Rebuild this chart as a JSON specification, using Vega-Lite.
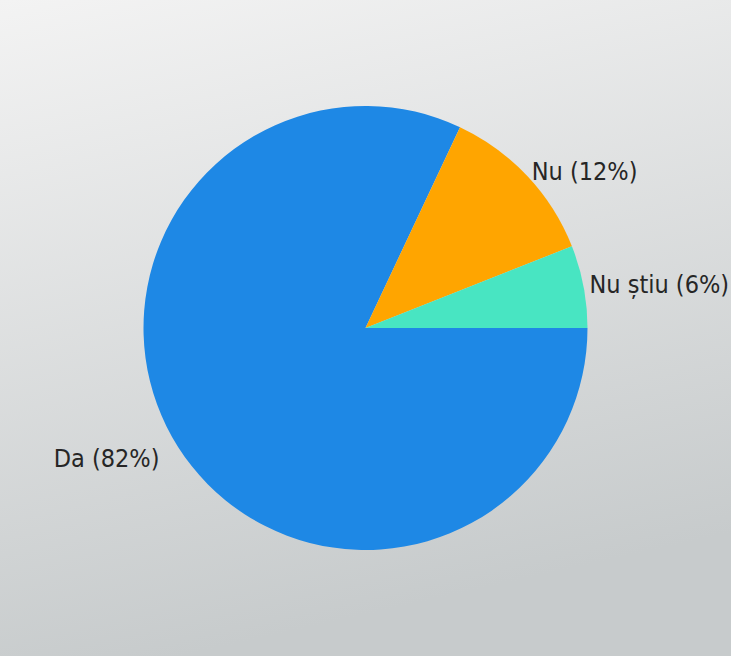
{
  "$schema": "https://vega.github.io/schema/vega-lite/v6.json",
  "width": 731,
  "height": 656,
  "autosize": {"type": "fit", "contains": "padding"},
  "padding": 0,
  "background": "#e0e2e3",
  "config": {"view": {"stroke": null}},
  "data": {
    "values": [
      {"answer": "Da", "label": "Da (82%)", "pct": 82},
      {"answer": "Nu", "label": "Nu (12%)", "pct": 12},
      {"answer": "Nu știu", "label": "Nu știu (6%)", "pct": 6}
    ]
  },
  "layer": [
    {
      "mark": {
        "type": "rect",
        "color": {
          "gradient": "linear",
          "x1": 0, "y1": 0, "x2": 0.25, "y2": 1,
          "stops": [
            {"offset": 0, "color": "#f3f3f3"},
            {"offset": 1, "color": "#c7cbcc"}
          ]
        }
      },
      "encoding": {}
    },
    {
      "mark": {"type": "arc", "outerRadius": 222},
      "encoding": {
        "theta": {"field": "pct", "type": "quantitative", "stack": true, "scale": {"range": [1.5708, 7.8540]}},
        "color": {
          "field": "answer",
          "type": "nominal",
          "scale": {"domain": ["Da", "Nu", "Nu știu"], "range": ["#1e88e5", "#ffa500", "#48e5c2"]},
          "legend": null
        }
      }
    },
    {
      "mark": {"type": "text", "radius": 228, "align": "left", "baseline": "middle", "font": "DejaVu Sans Condensed", "fontSize": 25, "color": "#262626"},
      "encoding": {
        "theta": {"field": "pct", "type": "quantitative", "stack": true, "scale": {"range": [1.5708, 7.8540]}},
        "text": {"condition": {"test": "datum.answer != 'Da'", "field": "label"}, "value": ""}
      }
    },
    {
      "mark": {"type": "text", "radius": 244, "align": "right", "baseline": "middle", "font": "DejaVu Sans Condensed", "fontSize": 25, "color": "#262626"},
      "encoding": {
        "theta": {"field": "pct", "type": "quantitative", "stack": true, "scale": {"range": [1.5708, 7.8540]}},
        "text": {"condition": {"test": "datum.answer == 'Da'", "field": "label"}, "value": ""}
      }
    }
  ]
}
